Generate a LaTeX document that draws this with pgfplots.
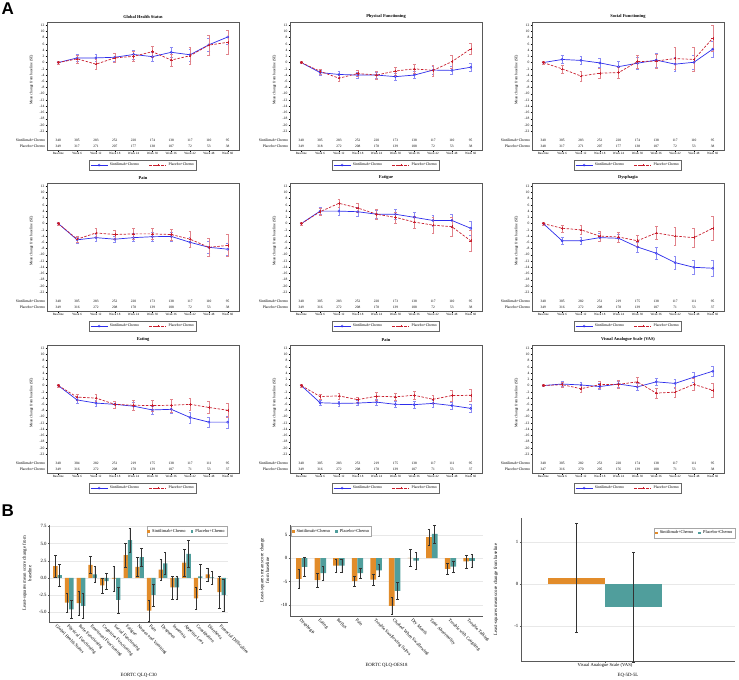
\documentclass[border=0pt]{standalone}
\usepackage{pgfplots}
\pgfplotsset{compat=1.18}
\usepackage{pgfplotstable}
\usepackage{fontspec}
\setmainfont{Liberation Serif}
\setsansfont{Liberation Sans}
\definecolor{sblue}{RGB}{45,45,235}
\definecolor{pred}{RGB}{200,30,45}
\definecolor{sorange}{RGB}{226,140,42}
\definecolor{pteal}{RGB}{80,158,156}

% ---------------- line-chart data (x = visit index, y = mean, e = SE) -------------
\pgfplotstableread[row sep=\\]{x y e\\0 0 0.4\\1 1.5 1.2\\2 1.5 1.1\\3 1.7 1.2\\4 2.6 1.4\\5 1.9 1.5\\6 3.3 1.7\\7 2.5 1.9\\8 5.7 2.0\\9 8.2 2.2\\}\ghsS
\pgfplotstableread[row sep=\\]{x y e\\0 0 0.4\\1 1.2 1.3\\2 -0.5 1.5\\3 1.5 1.5\\4 2.0 1.6\\5 3.5 1.9\\6 0.8 2.0\\7 2.2 2.7\\8 5.6 3.3\\9 6.5 3.8\\}\ghsP
\pgfplotstableread[row sep=\\]{x y e\\0 0 0.3\\1 -3.2 0.8\\2 -3.8 0.9\\3 -4.0 0.9\\4 -4.0 1.0\\5 -4.5 1.0\\6 -4.0 1.1\\7 -2.4 1.3\\8 -2.5 1.3\\9 -1.5 1.3\\}\pfS
\pgfplotstableread[row sep=\\]{x y e\\0 0 0.3\\1 -2.8 0.8\\2 -5.0 0.9\\3 -3.5 1.0\\4 -4.0 1.2\\5 -2.7 1.3\\6 -2.0 1.4\\7 -2.5 1.8\\8 0.3 2.0\\9 4.4 1.7\\}\pfP
\pgfplotstableread[row sep=\\]{x y e\\0 0 0.4\\1 1.0 1.3\\2 0.7 1.3\\3 -0.1 1.5\\4 -1.3 1.7\\5 -0.2 1.9\\6 0.8 2.2\\7 -0.5 2.2\\8 0.1 2.2\\9 4.3 2.6\\}\sfS
\pgfplotstableread[row sep=\\]{x y e\\0 0 0.4\\1 -2.0 1.3\\2 -4.3 1.6\\3 -3.4 1.7\\4 -3.2 1.8\\5 0.3 2.1\\6 0.5 2.3\\7 1.3 3.5\\8 1.0 3.8\\9 7.8 4.3\\}\sfP
\pgfplotstableread[row sep=\\]{x y e\\0 0 0.4\\1 -5.2 1.0\\2 -4.5 1.1\\3 -5.0 1.1\\4 -4.5 1.3\\5 -4.2 1.4\\6 -4.1 1.5\\7 -6.0 1.6\\8 -7.6 1.9\\9 -8.2 2.0\\}\painAS
\pgfplotstableread[row sep=\\]{x y e\\0 0 0.4\\1 -5.0 1.0\\2 -3.0 1.4\\3 -3.5 1.5\\4 -3.3 1.7\\5 -3.3 1.7\\6 -3.5 1.8\\7 -5.0 2.7\\8 -7.6 3.0\\9 -7.0 3.6\\}\painAP
\pgfplotstableread[row sep=\\]{x y e\\0 0 0.4\\1 4.0 1.1\\2 4.0 1.2\\3 3.8 1.3\\4 3.0 1.4\\5 3.0 1.5\\6 2.0 1.7\\7 1.0 1.8\\8 1.0 1.9\\9 -1.5 2.2\\}\fatS
\pgfplotstableread[row sep=\\]{x y e\\0 0 0.4\\1 3.8 1.1\\2 6.5 1.4\\3 5.0 1.5\\4 3.0 1.6\\5 2.0 1.8\\6 0.5 2.0\\7 -0.5 2.6\\8 -1.0 3.0\\9 -5.5 3.4\\}\fatP
\pgfplotstableread[row sep=\\]{x y e\\0 0 0.4\\1 -5.5 1.1\\2 -5.5 1.2\\3 -4.5 1.3\\4 -4.7 1.4\\5 -7.5 1.6\\6 -9.5 1.8\\7 -12.5 2.1\\8 -14.0 2.2\\9 -14.3 2.5\\}\dysS
\pgfplotstableread[row sep=\\]{x y e\\0 0 0.4\\1 -1.5 1.1\\2 -2.0 1.4\\3 -4.0 1.5\\4 -4.3 1.7\\5 -5.5 1.9\\6 -3.0 2.1\\7 -4.0 2.8\\8 -4.5 3.1\\9 -1.5 3.8\\}\dysP
\pgfplotstableread[row sep=\\]{x y e\\0 0 0.4\\1 -4.6 1.0\\2 -5.6 1.0\\3 -6.0 1.1\\4 -6.6 1.2\\5 -7.8 1.3\\6 -7.6 1.4\\7 -10.2 1.7\\8 -11.7 1.6\\9 -11.7 1.8\\}\eatS
\pgfplotstableread[row sep=\\]{x y e\\0 0 0.4\\1 -3.7 1.0\\2 -4.0 1.1\\3 -6.0 1.1\\4 -6.3 1.5\\5 -6.4 1.8\\6 -6.3 2.1\\7 -6.0 2.0\\8 -7.0 2.0\\9 -7.9 2.2\\}\eatP
\pgfplotstableread[row sep=\\]{x y e\\0 0 0.4\\1 -5.5 0.8\\2 -5.7 0.8\\3 -5.6 0.8\\4 -5.3 0.9\\5 -6.0 1.0\\6 -6.1 1.1\\7 -5.7 1.1\\8 -6.4 1.2\\9 -7.3 1.2\\}\painBS
\pgfplotstableread[row sep=\\]{x y e\\0 0 0.4\\1 -3.5 0.8\\2 -3.3 0.9\\3 -4.5 0.9\\4 -3.4 1.2\\5 -3.6 1.2\\6 -3.1 1.4\\7 -4.4 1.3\\8 -3.2 1.8\\9 -3.1 1.9\\}\painBP
\pgfplotstableread[row sep=\\]{x y e\\0 0 0.3\\1 0.5 0.8\\2 0.2 1.0\\3 -0.3 1.0\\4 0.5 1.0\\5 -0.4 1.1\\6 1.2 1.2\\7 0.7 1.5\\8 2.7 1.5\\9 4.6 1.5\\}\vasS
\pgfplotstableread[row sep=\\]{x y e\\0 0 0.3\\1 0.3 0.9\\2 -1.0 1.0\\3 0.3 1.2\\4 0.4 1.3\\5 1.2 1.5\\6 -2.4 1.5\\7 -2.1 1.7\\8 0.4 2.0\\9 -1.5 2.2\\}\vasP

% ---------------- bar-chart data ----------------
\pgfplotstableread[row sep=\\]{x s se p pe\\
0 1.7 1.6 0.4 1.6\\1 -3.6 1.35 -4.6 1.35\\2 -3.7 1.7 -4.1 1.8\\3 1.9 1.2 0.5 1.2\\4 -1.1 1.1 -0.5 1.1\\
5 -0.1 1.8 -3.2 1.9\\6 3.3 1.7 5.5 1.7\\7 1.6 1.35 3.0 1.35\\8 -4.8 1.5 -2.5 1.6\\9 1.2 1.5 2.1 1.6\\
10 -1.4 1.65 -1.4 1.7\\11 2.2 2.0 3.5 2.0\\12 -3.0 1.65 0.2 1.8\\13 0.5 0.95 0.05 0.95\\14 -2.1 2.4 -2.5 2.3\\}\cthirty
\pgfplotstableread[row sep=\\]{x s se p pe\\
0 -4.4 2.0 -1.85 2.0\\1 -4.7 1.5 -3.2 1.5\\2 -1.6 1.3 -1.6 1.3\\3 -4.9 1.05 -3.2 1.05\\4 -4.6 1.25 -2.6 1.25\\
5 -10.2 1.85 -7.0 1.8\\6 0.05 1.8 -0.5 1.8\\7 4.5 1.75 5.2 1.95\\8 -2.3 1.2 -1.8 1.2\\9 -0.7 1.4 -0.55 1.4\\}\oes
\pgfplotstableread[row sep=\\]{x s se p pe\\0 0.15 1.3 -0.55 1.3\\}\vasbar

\pgfplotsset{
 linebase/.style={
   scale only axis, width=192pt, height=128pt,
   xmin=-0.6, xmax=9.6, ymin=-28, ymax=13,
   xtick={0,...,9},
   xticklabels={Baseline,Week 6,Week 12,Week 18,Week 24,Week 30,Week 36,Week 42,Week 48,Week 60},
   ytick={-22,-20,...,12},
   xtick pos=bottom, ytick pos=left, tick align=outside,
   major tick length=1.5pt,
   axis line style={gray!70!black, line width=0.4pt},
   tick style={black, line width=0.3pt},
   x tick label style={font=\fontsize{3.2}{3.5}\selectfont, inner sep=1pt},
   y tick label style={font=\fontsize{3.6}{4}\selectfont, inner sep=1pt},
   /pgf/number format/assume math mode=true,
   clip=false,
   legend style={at={(0.5,-0.08)}, anchor=north, legend columns=2,
     font=\fontsize{3.8}{4}\selectfont, draw=gray!80!black, inner sep=0.6pt,
     /tikz/every even column/.append style={column sep=8pt}},
   legend cell align=left,
   title style={font=\bfseries\fontsize{4.4}{5}\selectfont, yshift=-6pt},
 },
 sline/.style={sblue, line width=0.7pt, mark=o, mark size=1.1pt, mark options={solid, line width=0.4pt},
   error bars/.cd, y dir=both, y explicit,
   error bar style={sblue!55, line width=0.4pt, solid},
   error mark options={sblue!55, mark size=1.4pt, line width=0.4pt, rotate=90}},
 pline/.style={pred, line width=0.7pt, dash pattern=on 2.5pt off 1.5pt, mark=+, mark size=1.3pt, mark options={solid, line width=0.4pt},
   error bars/.cd, y dir=both, y explicit,
   error bar style={pred!55, line width=0.4pt, solid},
   error mark options={pred!55, mark size=1.4pt, line width=0.4pt, rotate=90}},
 barbase/.style={
   scale only axis, ybar=0pt, clip=false,
   axis x line*=bottom, axis y line*=left,
   axis line style={gray!70!black, line width=0.4pt},
   ymajorgrids, grid style={gray!18, line width=0.3pt},
   xtick=data, xtick pos=bottom, ytick pos=left, tick align=outside,
   major tick length=1.5pt, tick style={gray!70!black, line width=0.3pt},
   x tick label style={font=\fontsize{4.6}{5}\selectfont, inner sep=0.5pt},
   y tick label style={font=\fontsize{4.8}{5}\selectfont, inner sep=1pt},
   /pgf/number format/assume math mode=true,
   ylabel style={font=\fontsize{4.8}{5.6}\selectfont, align=center},
   legend style={font=\fontsize{4.4}{5}\selectfont, draw=gray!70, inner sep=0.6pt, legend columns=2,
     /tikz/every even column/.append style={column sep=3pt}},
   legend image code/.code={\fill[##1] (0pt,-1.4pt) rectangle (2.8pt,1.4pt);},
 },
 sbar/.style={fill=sorange, draw=none, error bars/.cd, y dir=both, y explicit,
   error bar style={black!80, line width=0.45pt}, error mark options={black!80, mark size=1.3pt, line width=0.45pt, rotate=90}},
 pbar/.style={fill=pteal, draw=none, error bars/.cd, y dir=both, y explicit,
   error bar style={black!80, line width=0.45pt}, error mark options={black!80, mark size=1.3pt, line width=0.45pt, rotate=90}},
}

\newcommand{\nrow}[2]{%
  \foreach \n [count=\i from 0] in {#1} {\edef\temp{\noexpand\node[font=\noexpand\fontsize{3.5}{4}\noexpand\selectfont] at (axis cs:\i,#2) {\n};}\temp}}

\newcommand{\linepanel}[7]{%
\begin{axis}[linebase, at={(#1pt,-#2pt)}, anchor=north west, title={#3}]
  \addplot[sline] table[x=x, y=y, y error=e] {#4};
  \addplot[pline] table[x=x, y=y, y error=e] {#5};
  \legend{Sintilimab+Chemo, Placebo+Chemo}
  \nrow{#6}{-24.8}
  \nrow{#7}{-26.9}
  \node[anchor=east, font=\fontsize{3.8}{4}\selectfont, inner sep=0pt] at (axis cs:-0.7,-24.8) {Sintilimab+Chemo};
  \node[anchor=east, font=\fontsize{3.8}{4}\selectfont, inner sep=0pt] at (axis cs:-0.7,-26.9) {Placebo+Chemo};
  \node[rotate=90, font=\fontsize{3.8}{4}\selectfont] at (axis cs:-1.42,-5.5) {Mean change from baseline (SE)};
\end{axis}}

\begin{document}
\begin{tikzpicture}
\path[use as bounding box] (0,0) rectangle (739pt,-680pt);
\node[anchor=north west, font=\sffamily\bfseries\fontsize{17}{17}\selectfont, inner sep=0pt] at (1.5pt,-3pt) {A};
\node[anchor=north west, font=\sffamily\bfseries\fontsize{17}{17}\selectfont, inner sep=0pt] at (1.5pt,-505pt) {B};

\linepanel{47}{22}{Global Health Status}{\ghsS}{\ghsP}{340,305,283,252,220,174,138,117,110,95}{349,317,271,207,177,138,107,72,53,38}
\linepanel{290}{22}{Physical Functioning}{\pfS}{\pfP}{340,305,283,252,220,173,138,117,110,95}{349,318,272,208,178,139,108,72,53,38}
\linepanel{532}{22}{Social Functioning}{\sfS}{\sfP}{340,305,283,252,220,174,138,117,110,95}{348,317,271,207,177,138,107,72,53,38}

\linepanel{47}{183}{Pain}{\painAS}{\painAP}{340,305,283,252,220,173,138,117,110,95}{349,316,272,208,178,139,108,72,53,38}
\linepanel{290}{183}{Fatigue}{\fatS}{\fatP}{340,305,283,252,220,173,138,117,110,95}{349,316,272,208,178,139,108,72,53,38}
\linepanel{532}{183}{Dysphagia}{\dysS}{\dysP}{340,305,282,251,219,175,138,117,111,95}{349,316,272,208,178,139,107,71,53,37}

\linepanel{47}{345}{Eating}{\eatS}{\eatP}{340,304,282,251,219,175,138,117,111,95}{349,316,272,208,178,139,107,71,53,37}
\linepanel{290}{345}{Pain}{\painBS}{\painBP}{340,305,283,253,219,175,138,117,111,95}{349,316,272,208,178,139,107,71,53,37}
\linepanel{532}{345}{Visual Analogue Scale (VAS)}{\vasS}{\vasP}{340,305,282,253,220,174,138,117,111,95}{347,316,270,205,176,139,108,71,53,38}

% ---------------- B1: QLQ-C30 ----------------
\begin{axis}[barbase, at={(49.3pt,-525pt)}, anchor=north west, width=179pt, height=96.7pt,
  xmin=-0.7, xmax=14.57, ymin=-6.4, ymax=7.7, bar width=4.3pt,
  ytick={-5,-2.5,0,2.5,5,7.5},
  yticklabel style={/pgf/number format/.cd, fixed, fixed zerofill, precision=1},
  x tick label style={rotate=-45, anchor=north west},
  xticklabels={Global Health Status,Physical Functioning,Role Functioning,Emotional Functioning,Cognitive Functioning,Social Functioning,Fatigue,Nausea and Vomiting,Pain,Dyspnoea,Insomnia,Appetite Loss,Constipation,Diarrhoea,Financial Difficulties},
  ylabel={Least-squares mean score change from\\baseline}, ylabel style={at={(axis description cs:-0.08,0.5)}},
  legend style={at={(0.995,0.985)}, anchor=north east}]
  \addplot[sbar] table[x=x, y=s, y error=se] {\cthirty};
  \addplot[pbar] table[x=x, y=p, y error=pe] {\cthirty};
  \legend{Sintilimab+Chemo, Placebo+Chemo}
  \node[font=\fontsize{4.8}{5}\selectfont] at (rel axis cs:0.5,-0.55) {EORTC QLQ-C30};
\end{axis}

% ---------------- B2: QLQ-OES18 ----------------
\begin{axis}[barbase, at={(290pt,-525pt)}, anchor=north west, width=193pt, height=90.7pt,
  xmin=-0.63, xmax=9.75, ymin=-12.3, ymax=7.1, bar width=5.7pt,
  ytick={-10,-5,0,5},
  x tick label style={rotate=-45, anchor=north west},
  xticklabels={Dysphagia,Eating,Reflux,Pain,Trouble Swallowing Saliva,Choked When Swallowing,Dry Mouth,Taste Abnormality,Trouble with Coughing,Trouble Talking},
  ylabel={Least-squares mean score change\\from baseline}, ylabel style={at={(axis description cs:-0.09,0.5)}},
  legend style={at={(0.005,0.985)}, anchor=north west}]
  \addplot[sbar] table[x=x, y=s, y error=se] {\oes};
  \addplot[pbar] table[x=x, y=p, y error=pe] {\oes};
  \legend{Sintilimab+Chemo, Placebo+Chemo}
  \node[font=\fontsize{4.8}{5}\selectfont] at (rel axis cs:0.5,-0.55) {EORTC QLQ-OES18};
\end{axis}

% ---------------- B3: EQ-5D-5L ----------------
\begin{axis}[barbase, at={(521pt,-518pt)}, anchor=north west, width=214pt, height=143pt,
  xmin=-0.785, xmax=1.215, ymin=-1.83, ymax=1.57, bar width=57pt,
  ytick={-1,0,1}, xtick={0}, xticklabels={Visual Analogue Scale (VAS)},
  x tick label style={anchor=north},
  ylabel={Least-squares mean score change from baseline}, ylabel style={at={(axis description cs:-0.09,0.5)}},
  legend style={at={(1,0.93)}, anchor=north east}]
  \addplot[sbar] table[x=x, y=s, y error=se] {\vasbar};
  \addplot[pbar] table[x=x, y=p, y error=pe] {\vasbar};
  \legend{Sintilimab+Chemo, Placebo+Chemo}
  \node[font=\fontsize{4.8}{5}\selectfont] at (rel axis cs:0.5,-0.1) {EQ-5D-5L};
\end{axis}
\end{tikzpicture}
\end{document}
